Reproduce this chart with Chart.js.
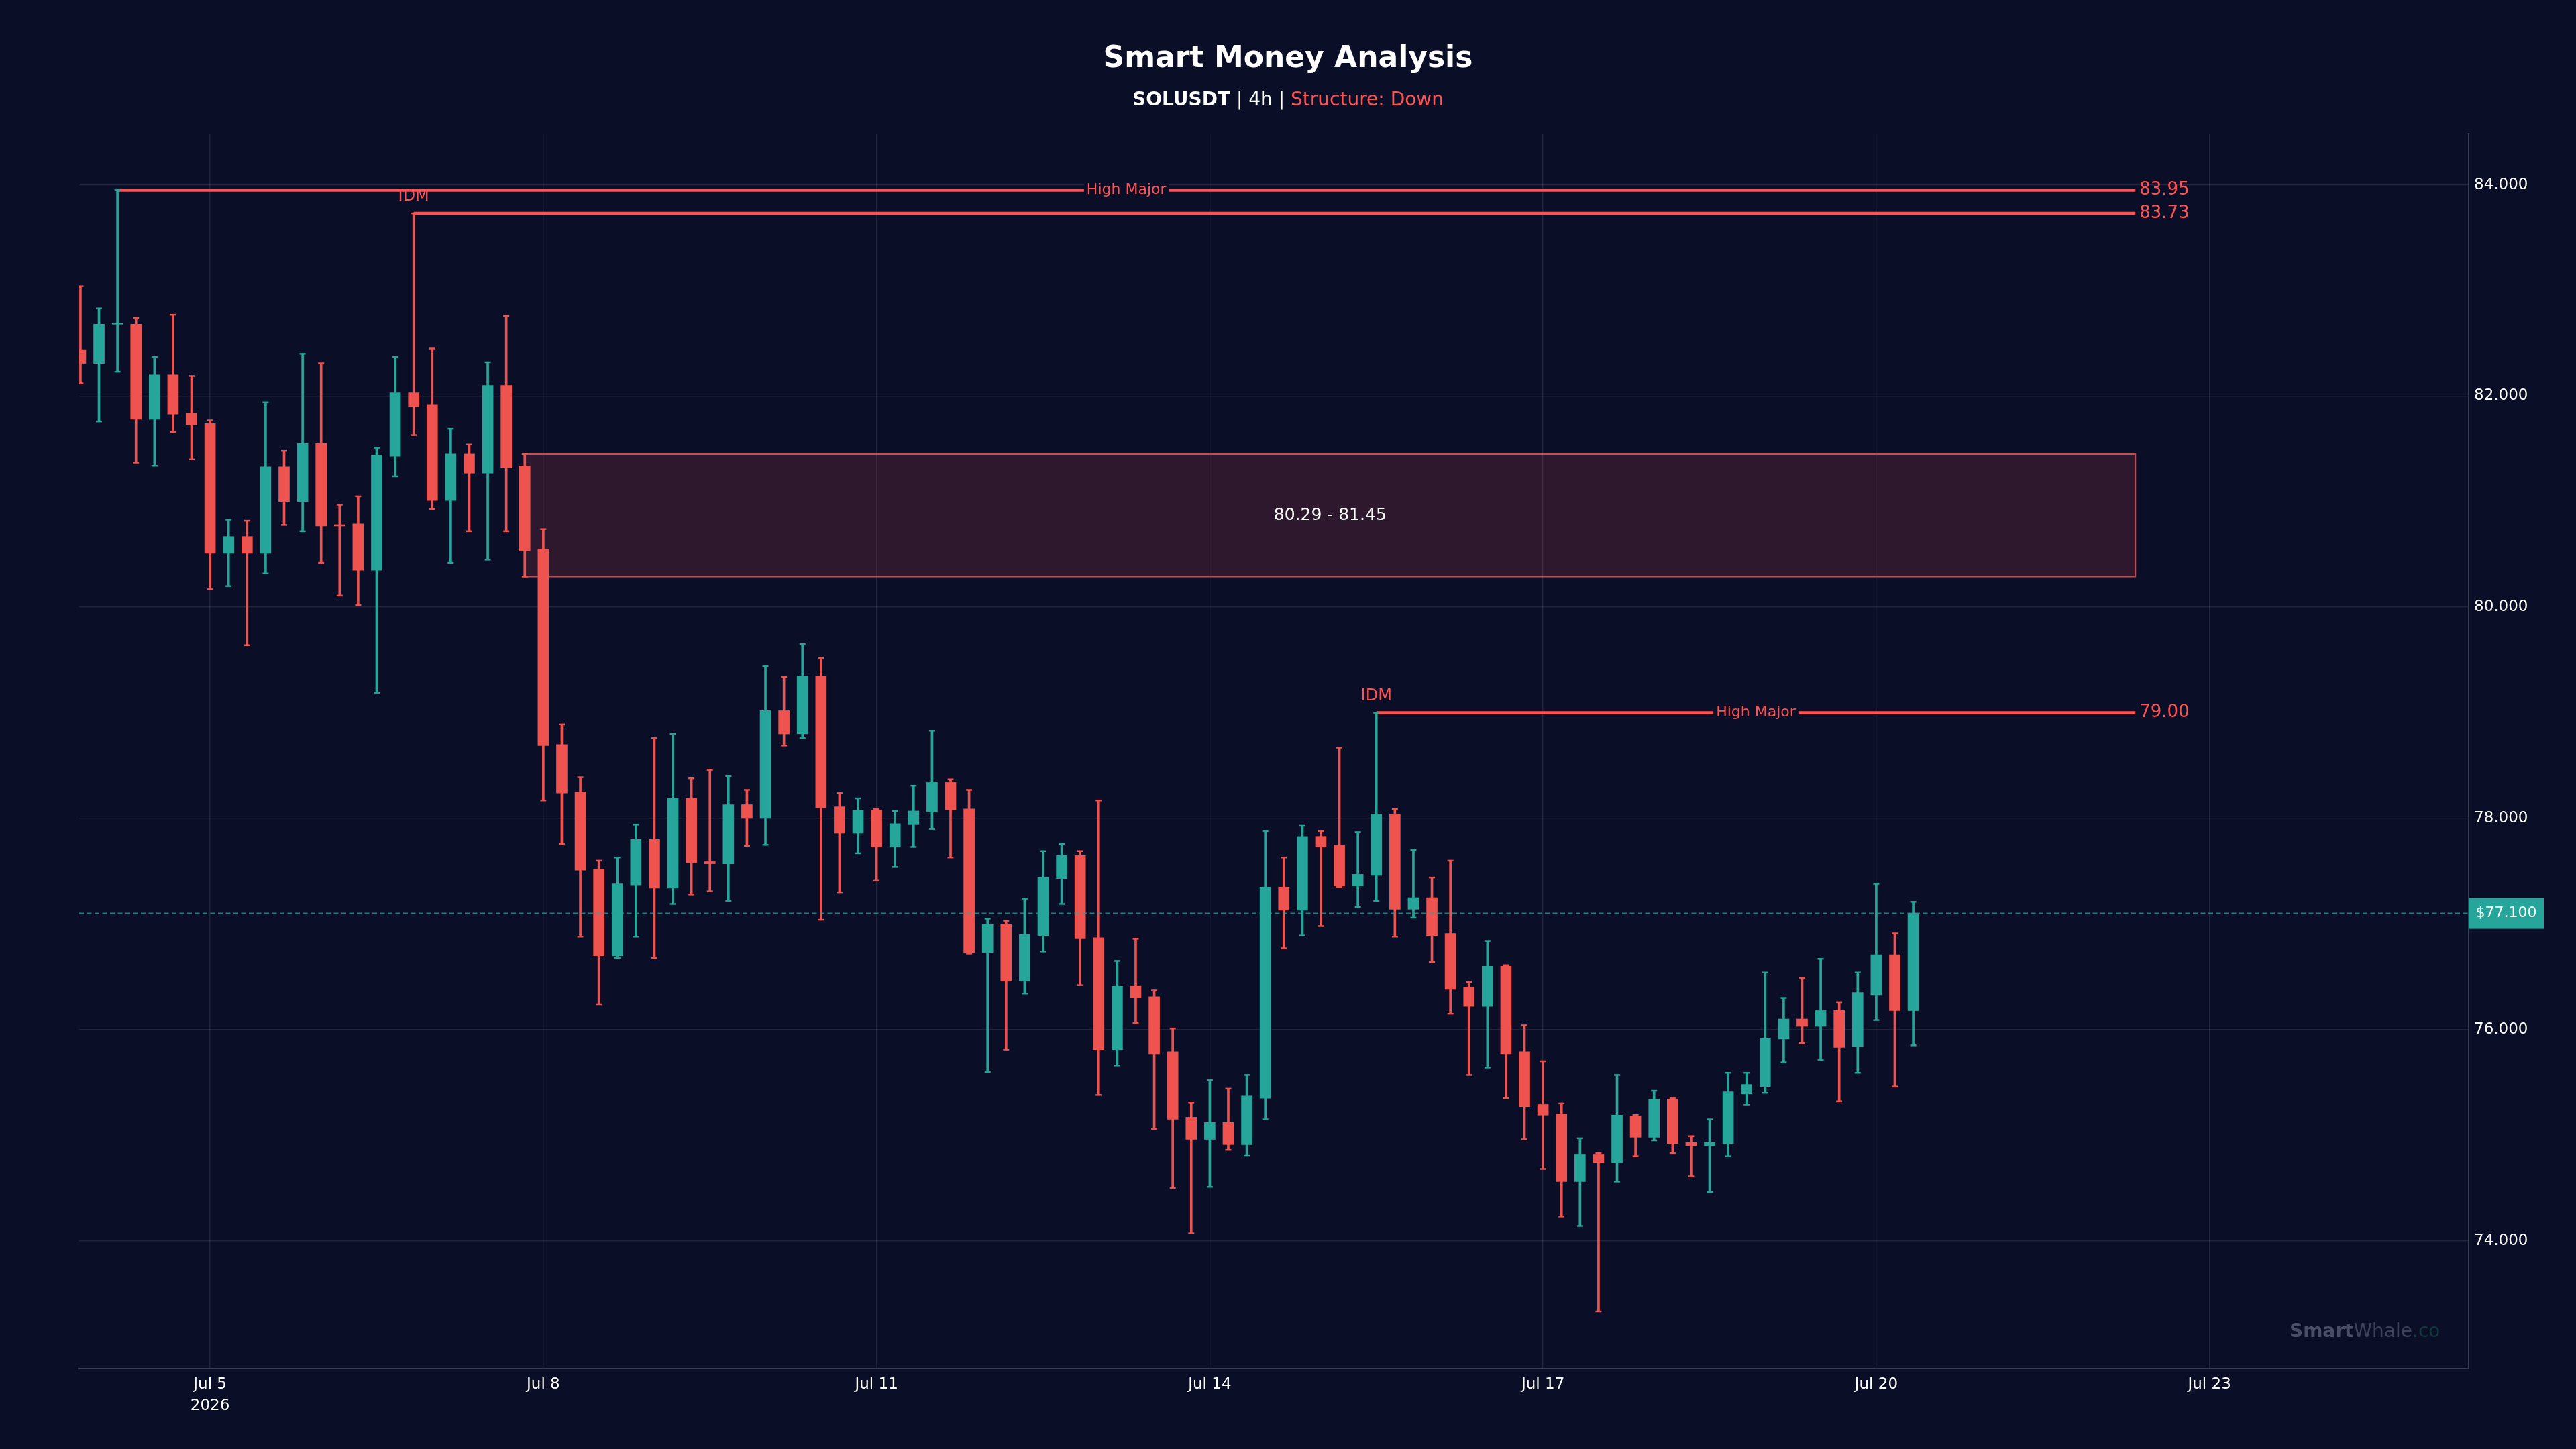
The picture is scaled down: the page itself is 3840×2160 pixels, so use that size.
<!DOCTYPE html>
<html>
<head>
<meta charset="utf-8">
<title>Smart Money Analysis</title>
<script src="https://cdn.jsdelivr.net/npm/chart.js@4.4.1/dist/chart.umd.min.js"></script>
<style>
  html, body { margin: 0; padding: 0; background: #0a0e27; }
  #wrap { width: 3840px; height: 2160px; }
</style>
</head>
<body>
<div id="wrap"><canvas id="myChart" width="3840" height="2160"></canvas></div>
<script>
// SOLUSDT 4h candles, Jul 3 20:00 -> Jul 20 08:00 (index 0..99)
const opens = [82.44, 82.31, 82.68, 82.68, 81.78, 82.20, 81.84, 81.74, 80.51, 80.67,
  80.51, 81.33, 81.00, 81.55, 80.78, 80.79, 80.35, 81.43, 82.03, 81.92,
  81.01, 81.45, 81.27, 82.10, 81.34, 80.55, 78.70, 78.25, 77.52, 76.70,
  77.37, 77.80, 77.34, 78.19, 77.59, 77.57, 78.13, 78.00, 79.02, 78.80,
  79.35, 78.11, 77.86, 78.08, 77.73, 77.94, 78.06, 78.34, 78.09, 76.73,
  77.00, 76.46, 76.89, 77.43, 77.65, 76.87, 75.81, 76.41, 76.31, 75.79,
  75.17, 74.96, 75.12, 74.91, 75.35, 77.35, 77.13, 77.83, 77.75, 77.36,
  77.46, 78.04, 77.14, 77.25, 76.91, 76.40, 76.22, 76.60, 75.79, 75.29,
  75.20, 74.56, 74.82, 74.74, 75.18, 74.98, 75.34, 74.93, 74.90, 74.92,
  75.39, 75.46, 75.91, 76.10, 76.03, 76.18, 75.84, 76.33, 76.71, 76.18];
const highs = [83.04, 82.83, 83.95, 82.74, 82.37, 82.77, 82.19, 81.77, 80.83, 80.82,
  81.94, 81.48, 82.40, 82.31, 80.97, 81.05, 81.51, 82.37, 83.73, 82.45,
  81.69, 81.54, 82.32, 82.76, 81.45, 80.74, 78.89, 78.39, 77.60, 77.63,
  77.94, 78.76, 78.80, 78.38, 78.46, 78.40, 78.27, 79.44, 79.34, 79.65,
  79.52, 78.24, 78.19, 78.09, 78.07, 78.31, 78.83, 78.37, 78.27, 77.05,
  77.03, 77.24, 77.69, 77.76, 77.69, 78.17, 76.65, 76.86, 76.37, 76.01,
  75.31, 75.52, 75.44, 75.57, 77.88, 77.63, 77.93, 77.88, 78.67, 77.87,
  79.00, 78.09, 77.70, 77.44, 77.60, 76.45, 76.84, 76.61, 76.04, 75.70,
  75.30, 74.97, 74.83, 75.57, 75.19, 75.42, 75.35, 74.99, 75.15, 75.59,
  75.59, 76.54, 76.30, 76.49, 76.67, 76.26, 76.54, 77.38, 76.91, 77.21];
const lows = [82.12, 81.76, 82.23, 81.37, 81.34, 81.66, 81.40, 80.17, 80.20, 79.64,
  80.32, 80.78, 80.72, 80.42, 80.11, 80.02, 79.19, 81.24, 81.63, 80.93,
  80.42, 80.72, 80.45, 80.72, 80.29, 78.17, 77.76, 76.88, 76.24, 76.68,
  76.88, 76.68, 77.19, 77.28, 77.31, 77.22, 77.74, 77.75, 78.69, 78.76,
  77.04, 77.30, 77.67, 77.41, 77.54, 77.73, 77.90, 77.63, 76.72, 75.60,
  75.81, 76.34, 76.74, 77.19, 76.42, 75.38, 75.66, 76.06, 75.06, 74.50,
  74.07, 74.51, 74.86, 74.81, 75.15, 76.77, 76.89, 76.98, 77.35, 77.16,
  77.22, 76.88, 77.06, 76.64, 76.15, 75.57, 75.64, 75.35, 74.96, 74.68,
  74.23, 74.14, 73.33, 74.56, 74.80, 74.95, 74.83, 74.61, 74.46, 74.80,
  75.29, 75.40, 75.69, 75.87, 75.71, 75.32, 75.59, 76.09, 75.46, 75.85];
const closes = [82.31, 82.68, 82.69, 81.78, 82.20, 81.83, 81.73, 80.51, 80.67, 80.51,
  81.33, 81.00, 81.55, 80.77, 80.77, 80.35, 81.44, 82.03, 81.90, 81.01,
  81.45, 81.27, 82.10, 81.32, 80.53, 78.69, 78.24, 77.51, 76.70, 77.38,
  77.80, 77.34, 78.19, 77.58, 77.57, 78.13, 78.00, 79.02, 78.80, 79.35,
  78.10, 77.86, 78.08, 77.73, 77.95, 78.07, 78.34, 78.08, 76.73, 77.00,
  76.46, 76.90, 77.44, 77.65, 76.86, 75.81, 76.41, 76.30, 75.77, 75.15,
  74.96, 75.12, 74.91, 75.37, 77.35, 77.13, 77.83, 77.73, 77.36, 77.47,
  78.04, 77.14, 77.25, 76.89, 76.38, 76.22, 76.60, 75.77, 75.27, 75.19,
  74.56, 74.82, 74.74, 75.19, 74.98, 75.34, 74.92, 74.90, 74.93, 75.41,
  75.48, 75.92, 76.10, 76.03, 76.18, 75.83, 76.35, 76.71, 76.18, 77.10];

const xTickPos = [7, 25, 43, 61, 79, 97, 115];
const xTickLabels = [['Jul 5', '2026'], 'Jul 8', 'Jul 11', 'Jul 14', 'Jul 17', 'Jul 20', 'Jul 23'];
const yTicks = [74, 76, 78, 80, 82, 84];

const levelPrices = [83.95, 83.73, 79.00];
const levelStarts = [2, 18, 70];
const levelMidText = ['High Major', '', 'High Major'];
const levelTopText = ['', 'IDM', 'IDM'];
const levelEnd = 111;

const zoneLow = 80.29;
const zoneHigh = 81.45;
const zoneStart = 24;
const zoneEnd = 111;

const lastPrice = 77.10;
const xMin = -0.07, xMax = 129;
const yMin = 72.79, yMax = 84.48;

const BG = '#0a0e27';
const UP = '#26a69a';
const DOWN = '#ef5350';
const LEVEL = '#ff5252';
const FONT = '"DejaVu Sans", sans-serif';

Chart.defaults.font.family = FONT;
Chart.defaults.color = '#ffffff';

const idx = closes.map((c, i) => i);
const candleColors = idx.map(i => closes[i] >= opens[i] ? UP : DOWN);

const datasets = [
    {
        type: 'line',
        data: [{ x: xMin, y: lastPrice }, { x: xMax, y: lastPrice }],
        borderColor: 'rgba(38,166,154,0.75)',
        borderWidth: 2,
        borderDash: [7, 4.5],
        pointRadius: 0,
        order: 0
    },
    {
        type: 'bar',
        data: idx.map(i => ({ x: i, y: [opens[i], closes[i]] })),
        backgroundColor: candleColors,
        barThickness: 16,
        minBarLength: 2,
        grouped: false,
        order: 1
    },
    {
        type: 'bar',
        data: idx.map(i => ({ x: i, y: [lows[i], highs[i]] })),
        backgroundColor: candleColors,
        barThickness: 3,
        grouped: false,
        order: 2
    },
    {
        type: 'line',
        data: idx.map(i => ({ x: i, y: highs[i] })),
        showLine: false,
        pointStyle: 'line',
        pointRadius: 4.5,
        pointBorderWidth: 2.5,
        pointBorderColor: candleColors,
        order: 2
    },
    {
        type: 'line',
        data: idx.map(i => ({ x: i, y: lows[i] })),
        showLine: false,
        pointStyle: 'line',
        pointRadius: 4.5,
        pointBorderWidth: 2.5,
        pointBorderColor: candleColors,
        order: 2
    }
];

levelPrices.forEach((p, i) => {
    datasets.push({
        type: 'line',
        data: [{ x: levelStarts[i], y: p }, { x: levelEnd, y: p }],
        borderColor: LEVEL,
        borderWidth: 4.5,
        pointRadius: 0,
        order: 3
    });
});

// order block zone: fill + outline
datasets.push({
    type: 'line',
    data: [{ x: zoneStart, y: zoneHigh }, { x: zoneEnd, y: zoneHigh }],
    borderWidth: 0,
    pointRadius: 0,
    backgroundColor: 'rgba(239,83,80,0.16)',
    fill: { value: zoneLow },
    order: 5
});
datasets.push({
    type: 'line',
    data: [{ x: zoneStart, y: zoneHigh }, { x: zoneEnd, y: zoneHigh }, { x: zoneEnd, y: zoneLow },
        { x: zoneStart, y: zoneLow }, { x: zoneStart, y: zoneHigh }],
    borderColor: 'rgba(239,83,80,0.85)',
    borderWidth: 2,
    pointRadius: 0,
    order: 4
});

datasets.forEach(d => { d.clip = 0; });

function drawParts(c, parts, x, y, size) {
    let w = 0;
    parts.forEach(p => { c.font = p[1] + ' ' + size + 'px ' + FONT; p.w = c.measureText(p[0]).width; w += p.w; });
    let cx = x === null ? 1920 - w / 2 : x;
    c.textAlign = 'left';
    parts.forEach(p => {
        c.font = p[1] + ' ' + size + 'px ' + FONT;
        c.fillStyle = p[2];
        c.fillText(p[0], cx, y);
        cx += p.w;
    });
}

const overlay = {
    id: 'overlay',
    beforeDraw(chart) {
        const c = chart.ctx;
        c.save();
        c.fillStyle = BG;
        c.fillRect(0, 0, chart.width, chart.height);
        c.restore();
    },
    afterDatasetsDraw(chart) {
        const c = chart.ctx, xs = chart.scales.x, ys = chart.scales.y;
        c.save();
        c.textBaseline = 'middle';
        levelPrices.forEach((p, i) => {
            const py = ys.getPixelForValue(p);
            const x0 = xs.getPixelForValue(levelStarts[i]);
            const x1 = xs.getPixelForValue(levelEnd);
            if (levelMidText[i]) {
                c.font = '22px ' + FONT;
                const w = c.measureText(levelMidText[i]).width;
                const mx = (x0 + x1) / 2;
                c.fillStyle = BG;
                c.fillRect(mx - w / 2 - 4, py - 13, w + 8, 26);
                c.fillStyle = LEVEL;
                c.textAlign = 'center';
                c.fillText(levelMidText[i], mx, py);
            }
            if (levelTopText[i]) {
                c.font = '24px ' + FONT;
                c.fillStyle = LEVEL;
                c.textAlign = 'center';
                c.fillText(levelTopText[i], x0, py - 25);
            }
            c.font = '26px ' + FONT;
            c.fillStyle = LEVEL;
            c.textAlign = 'left';
            c.fillText(p.toFixed(2), x1 + 6, py);
        });

        c.font = '25px ' + FONT;
        c.fillStyle = '#ffffff';
        c.textAlign = 'center';
        c.fillText(zoneLow.toFixed(2) + ' - ' + zoneHigh.toFixed(2),
            (xs.getPixelForValue(zoneStart) + xs.getPixelForValue(zoneEnd)) / 2,
            ys.getPixelForValue((zoneLow + zoneHigh) / 2));
        c.restore();
    },
    afterDraw(chart) {
        const c = chart.ctx, ys = chart.scales.y, area = chart.chartArea;
        c.save();
        c.textBaseline = 'alphabetic';
        c.textAlign = 'center';
        c.fillStyle = '#ffffff';
        c.font = 'bold 44px ' + FONT;
        c.fillText('Smart Money Analysis', 1920, 100);
        drawParts(c, [['SOLUSDT', 'bold', '#ffffff'], [' | 4h | ', '', '#ffffff'], ['Structure: Down', '', LEVEL]], null, 157, 28);

        drawParts(c, [['Smart', 'bold', '#4b4f66'], ['Whale', '', '#3e4259'], ['.co', '', '#103a3c']], 3413, 1993, 28);

        const py = ys.getPixelForValue(lastPrice);
        c.fillStyle = UP;
        c.fillRect(area.right, py - 23, 112, 46);
        c.fillStyle = '#ffffff';
        c.font = '22px ' + FONT;
        c.textAlign = 'center';
        c.textBaseline = 'middle';
        c.fillText('$' + lastPrice.toFixed(3), area.right + 56, py);
        c.restore();
    }
};

new Chart(
    document.getElementById('myChart'),
    {
        type: 'bar',
        data: { datasets: datasets },
        plugins: [overlay],
        options: {
            responsive: false,
            animation: false,
            events: [],
            layout: { padding: { left: 118, top: 200, right: 0, bottom: 0 } },
            scales: {
                x: {
                    type: 'linear',
                    min: xMin,
                    max: xMax,
                    offset: false,
                    afterBuildTicks: s => { s.ticks = xTickPos.map(v => ({ value: v })); },
                    afterFit: s => { s.height = 120; },
                    grid: { color: 'rgba(255,255,255,0.09)', lineWidth: 1.5, drawTicks: false, offset: false },
                    border: { display: true, color: '#3a3e52', width: 2 },
                    ticks: {
                        autoSkip: false,
                        maxRotation: 0,
                        padding: 8,
                        color: '#ffffff',
                        font: { size: 23, lineHeight: 1.4 },
                        callback: (v, i) => xTickLabels[i]
                    }
                },
                y: {
                    type: 'linear',
                    position: 'right',
                    min: yMin,
                    max: yMax,
                    afterBuildTicks: s => { s.ticks = yTicks.map(v => ({ value: v })); },
                    afterFit: s => { s.width = 160; },
                    grid: { color: 'rgba(255,255,255,0.09)', lineWidth: 1.5, drawTicks: false },
                    border: { display: true, color: '#3a3e52', width: 2 },
                    ticks: {
                        padding: 8,
                        color: '#ffffff',
                        font: { size: 23 },
                        callback: v => v.toFixed(3)
                    }
                }
            },
            plugins: {
                legend: { display: false },
                tooltip: { enabled: false },
                title: { display: false }
            }
        }
    }
);
</script>
</body>
</html>
